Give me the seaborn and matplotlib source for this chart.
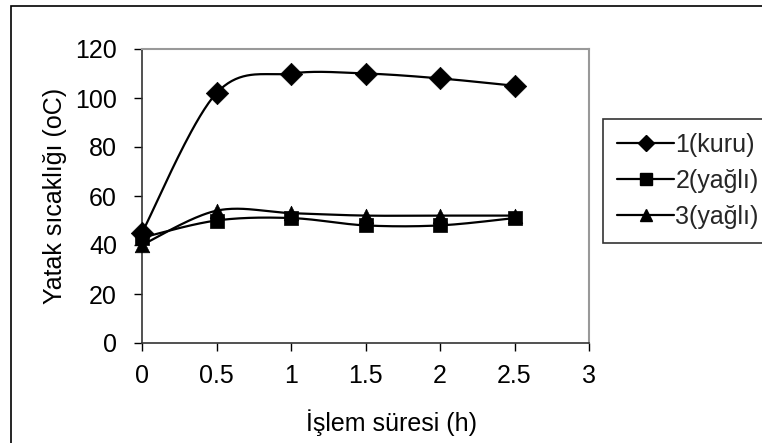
import numpy as np
import pandas as pd
import matplotlib
matplotlib.use("Agg")
import matplotlib.pyplot as plt
import seaborn as sns
from matplotlib.lines import Line2D
from matplotlib.patches import Rectangle

# ---- data ----
time_h = [0, 0.5, 1, 1.5, 2, 2.5]
kuru_1 = [45, 102, 110, 110, 108, 105]
yagli_2 = [43, 50, 51, 48, 48, 51]
yagli_3 = [40, 54, 53, 52, 52, 52]
series_labels = ["1(kuru)", "2(yağlı)", "3(yağlı)"]
series_values = [kuru_1, yagli_2, yagli_3]
series_markers = ["D", "s", "^"]
x_ticks = [0, 0.5, 1, 1.5, 2, 2.5, 3]
x_tick_labels = ["0", "0.5", "1", "1.5", "2", "2.5", "3"]
y_ticks = [0, 20, 40, 60, 80, 100, 120]

sns.set_theme(style="white")
plt.rcParams["font.family"] = ["Liberation Sans", "DejaVu Sans"]


def excel_smooth(x, y, n=40):
    """Excel-like smoothed line (Catmull-Rom Bezier segments)."""
    pts = np.column_stack([np.asarray(x, float), np.asarray(y, float)])
    ext = np.vstack([pts[0], pts, pts[-1]])
    out = []
    t = np.linspace(0, 1, n)[:, None]
    for i in range(len(pts) - 1):
        p0, p1 = ext[i + 1], ext[i + 2]
        c1 = p0 + (ext[i + 2] - ext[i]) / 6.0
        c2 = p1 - (ext[i + 3] - ext[i + 1]) / 6.0
        seg = ((1 - t) ** 3) * p0 + 3 * ((1 - t) ** 2) * t * c1 + 3 * (1 - t) * t ** 2 * c2 + t ** 3 * p1
        out.append(seg if i == 0 else seg[1:])
    s = np.vstack(out)
    return s[:, 0], s[:, 1]


W, H = 762, 443
fig = plt.figure(figsize=(W / 100, H / 100), dpi=100)
ax = fig.add_axes([142 / W, 1 - 343 / H, (589 - 142) / W, (343 - 49) / H])

FS = 18
for label, vals, mk in zip(series_labels, series_values, series_markers):
    sx, sy = excel_smooth(time_h, vals)
    smooth_df = pd.DataFrame({"x": sx, "y": sy})
    sns.lineplot(data=smooth_df, x="x", y="y", sort=False, estimator=None,
                 color="black", linewidth=1.6, ax=ax, legend=False)
    pts_df = pd.DataFrame({"x": time_h, "y": vals})
    ms = {"D": 130, "s": 110, "^": 110}[mk]
    sns.scatterplot(data=pts_df, x="x", y="y", marker=mk, s=ms, color="black",
                    edgecolor="black", linewidth=0.5, ax=ax, legend=False, zorder=3,
                    clip_on=False)

ax.set_xlim(0, 3)
ax.set_ylim(0, 120)
ax.set_xticks(x_ticks)
ax.set_xticklabels(x_tick_labels)
ax.set_yticks(y_ticks)
ax.tick_params(axis="both", which="major", labelsize=FS, colors="black",
               direction="out", length=6, width=1)
ax.tick_params(axis="x", bottom=True, pad=9)
ax.tick_params(axis="y", left=True, pad=12)
for side in ["left", "bottom"]:
    ax.spines[side].set_color("#333333")
    ax.spines[side].set_linewidth(1.2)
for side in ["top", "right"]:
    ax.spines[side].set_color("#999999")
    ax.spines[side].set_linewidth(1.5)

ax.set_xlabel("İşlem süresi (h)", fontsize=FS, color="black")
ax.set_ylabel("Yatak sıcaklığı (oC)", fontsize=FS, color="black")
ax.xaxis.set_label_coords(((305 + 478) / 2 - 142) / (589 - 142), (343 - 423) / (343 - 49))
ax.yaxis.set_label_coords((55 - 142) / (589 - 142), 0.5)
ax.xaxis.label.set_va("center")
ax.yaxis.label.set_va("center")

handles = [Line2D([0], [0], color="black", lw=1.6, marker=mk, markersize=ms,
                  markerfacecolor="black", markeredgecolor="black")
           for mk, ms in zip(series_markers, [8, 8.5, 8.5])]
leg = fig.legend(handles, series_labels, loc="upper left",
                 bbox_to_anchor=(603 / W, 1 - 119 / H), bbox_transform=fig.transFigure,
                 frameon=True, fancybox=False, fontsize=FS, handlelength=2.3,
                 handletextpad=0.05, labelspacing=0.48, borderpad=0.55,
                 borderaxespad=0)
leg.get_frame().set_edgecolor("black")
leg.get_frame().set_linewidth(1.2)
leg.get_frame().set_facecolor("white")

fig.patches.append(Rectangle((11 / W, -0.2), 1.2, 1.2 - 6 / H,
                             transform=fig.transFigure, fill=False,
                             edgecolor="black", linewidth=1.2, zorder=-1))

fig.savefig("out.png", dpi=100, facecolor="white")
